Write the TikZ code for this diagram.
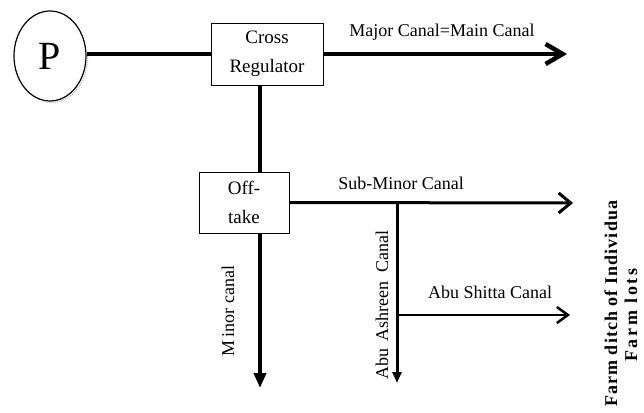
\documentclass[tikz,border=0pt]{standalone}
\usepackage{fontspec}
\setmainfont{Liberation Serif}
\newfontfamily\farmfont[LetterSpace=6]{Liberation Serif}
\newfontfamily\lotsfont[LetterSpace=15]{Liberation Serif}
\usetikzlibrary{arrows.meta,shapes.geometric}

\begin{document}
\begin{tikzpicture}[x=1pt,y=-1pt,font=\fontsize{18}{20}\selectfont,
  box/.style={draw,line width=0.8pt,inner sep=0pt,align=center,font=\fontsize{19}{29}\selectfont},
  farm/.style={rotate=90,inner sep=0pt,font=\bfseries\fontsize{18}{20}\selectfont}]
\useasboundingbox (0,0) rectangle (644,412);
% structures
\node[draw,ellipse,line width=1.2pt,minimum width=72pt,minimum height=90pt,inner sep=0pt,font=\fontsize{40}{40}\selectfont] (pump) at (50,56) {P};
\draw[gray!55,densely dotted,line width=1.1pt] (51.5,57.5) ++(-5:36 and 45) arc[start angle=-5,end angle=105,x radius=36,y radius=45];
\node[box,minimum width=112pt,minimum height=62pt] (cross) at (267,54) {Cross\\Regulator};
\node[box,minimum width=90pt,minimum height=61pt] (offtake) at (244,202.5) {Off-\\take};
% canal ends
\coordinate (trunk) at (260,0);
\coordinate (mainEnd) at (567,54);
\coordinate (minorEnd) at (260,388);
\coordinate (subEnd) at (573,203);
\coordinate (ashJoin) at (397,203);
\coordinate (ashEnd) at (397,383);
\coordinate (shitJoin) at (397,315);
\coordinate (shitEnd) at (570,315);
% canals
\draw[line width=4.5pt] (pump.east |- cross.west) -- (cross.west);
\draw[line width=4.5pt,-{Straight Barb[length=17pt,width=20pt]}] (cross.east) -- (mainEnd);
\draw[line width=4pt] (cross.south -| trunk) -- (offtake.north -| trunk);
\draw[line width=4pt,-{Triangle[length=15pt,width=12pt]}] (offtake.south -| trunk) -- (minorEnd);
\draw[line width=3pt,-{Straight Barb[length=12pt,width=20pt]}] (offtake.east) -- (subEnd);
\draw[line width=3pt,-{Triangle[length=11pt,width=9pt]}] (ashJoin) -- (ashEnd);
\draw[line width=2.5pt,-{Straight Barb[length=11pt,width=16pt]}] (shitJoin) -- (shitEnd);
% labels
\node (mainLbl) at (442,32) {Major Canal=Main Canal};
\node (subLbl) at (401,183) {Sub-Minor Canal};
\node (shitLbl) at (490,292) {Abu Shitta Canal};
\node[rotate=90] (minorLbl) at (228,311) {M\,inor canal};
\node[rotate=90] (ashLbl) at (382,305) {Abu\, Ashreen\ \ Canal};
\node[farm,anchor=west] (farmLbl) at (611,407) {\farmfont Farm ditch of Individua};
\node[farm] (lotsLbl) at (631,315) {\lotsfont Farm lots};
\end{tikzpicture}
\end{document}
